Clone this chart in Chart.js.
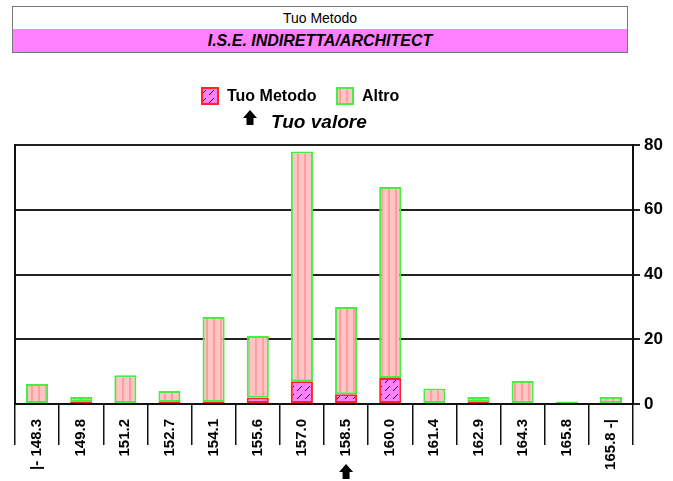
<!DOCTYPE html>
<html>
<head>
<meta charset="utf-8">
<script src="https://cdn.jsdelivr.net/npm/chart.js@4.4.1/dist/chart.umd.min.js"></script>
<style>
  body { margin: 0; background: #fff; font-family: "Liberation Sans", Arial, sans-serif; }
  #wrap { position: relative; width: 673px; height: 481px; }
  #chart { position: absolute; left: 0; top: 0; }
  .box { position: absolute; left: 12px; width: 614px; border: 1px solid #777; text-align: center; color: #000; }
  #t1 { top: 6px; height: 22px; line-height: 22px; font-size: 14px; background: #fff; }
  #t2 { top: 29px; height: 23px; line-height: 23px; font-size: 16px; font-weight: bold; font-style: italic; background: #ff80ff; border-top: none; }
</style>
</head>
<body>
<div id="wrap">
  <canvas id="chart" width="673" height="481"></canvas>
  <div class="box" id="t1">Tuo Metodo</div>
  <div class="box" id="t2">I.S.E. INDIRETTA/ARCHITECT</div>
</div>
<script>
const categories = ['|- 148.3', '149.8', '151.2', '152.7', '154.1', '155.6', '157.0', '158.5', '160.0', '161.4', '162.9', '164.3', '165.8', '165.8 -|'];
const tuoMetodo = [0, 0.6, 0, 0.6, 0.6, 2, 7, 3, 8, 0, 0.6, 0, 0, 0];
const altro = [6.2, 1.6, 8.9, 3.4, 26.3, 19, 71, 27, 59, 4.8, 1.6, 7.1, 0.8, 2.2];
const yTicks = [0, 20, 40, 60, 80];
const tuoValoreIndex = 7;

const FONT = '"Liberation Sans", Arial, sans-serif';

function stripePattern() {
    const c = document.createElement('canvas');
    c.width = 7; c.height = 7;
    const g = c.getContext('2d');
    g.fillStyle = '#ffc4c4';
    g.fillRect(0, 0, 7, 7);
    g.fillStyle = '#ff9e9e';
    g.fillRect(3, 0, 2, 7);
    return g.createPattern(c, 'repeat');
}

function hatchPattern() {
    const c = document.createElement('canvas');
    c.width = 8; c.height = 8;
    const g = c.getContext('2d');
    g.fillStyle = '#ff80ff';
    g.fillRect(0, 0, 8, 8);
    g.strokeStyle = '#000';
    g.lineWidth = 1;
    g.beginPath();
    g.moveTo(1, 7);
    g.lineTo(6, 2);
    g.stroke();
    return g.createPattern(c, 'repeat');
}

const stripes = stripePattern();
const hatch = hatchPattern();

function drawArrow(ctx, cx, top) {
    ctx.fillStyle = '#000';
    ctx.beginPath();
    ctx.moveTo(cx, top);
    ctx.lineTo(cx + 7, top + 8);
    ctx.lineTo(cx + 3.5, top + 8);
    ctx.lineTo(cx + 3.5, top + 15);
    ctx.lineTo(cx - 3.5, top + 15);
    ctx.lineTo(cx - 3.5, top + 8);
    ctx.lineTo(cx - 7, top + 8);
    ctx.closePath();
    ctx.fill();
}

const extras = {
    id: 'extras',
    afterDraw(chart) {
        const ctx = chart.ctx;
        ctx.save();
        // legend
        ctx.lineWidth = 2;
        ctx.fillStyle = hatch;
        ctx.fillRect(202, 88, 16, 16);
        ctx.strokeStyle = '#ff2222';
        ctx.strokeRect(202, 88, 16, 16);
        ctx.fillStyle = stripes;
        ctx.fillRect(337, 88, 16, 16);
        ctx.strokeStyle = '#44ee44';
        ctx.strokeRect(337, 88, 16, 16);
        ctx.fillStyle = '#000';
        ctx.font = 'bold 16px ' + FONT;
        ctx.textBaseline = 'middle';
        ctx.fillText('Tuo Metodo', 227, 97);
        ctx.fillText('Altro', 362, 97);
        ctx.font = 'italic bold 19px ' + FONT;
        ctx.fillText('Tuo valore', 271, 123);
        drawArrow(ctx, 250, 110);
        // arrow under the category of the user's value
        const x = chart.scales.x.getPixelForValue(tuoValoreIndex);
        drawArrow(ctx, x, 464);
        ctx.restore();
    }
};

new Chart(document.getElementById('chart'), {
    type: 'bar',
    data: {
        labels: categories,
        datasets: [{
            label: 'Tuo Metodo',
            data: tuoMetodo,
            backgroundColor: hatch,
            borderColor: '#ff2222',
            borderWidth: 2,
            borderSkipped: false
        }, {
            label: 'Altro',
            data: altro,
            backgroundColor: stripes,
            borderColor: '#44ee44',
            borderWidth: 2,
            borderSkipped: false
        }]
    },
    options: {
        responsive: false,
        animation: false,
        layout: { padding: { top: 145, left: 0, right: 0, bottom: 0 } },
        datasets: { bar: { categoryPercentage: 1, barPercentage: 0.5 } },
        plugins: { legend: { display: false }, tooltip: { enabled: false } },
        scales: {
            x: {
                stacked: true,
                afterFit: s => { s.height = 77; },
                grid: { drawOnChartArea: false, color: '#111', lineWidth: 1.5, tickLength: 41, offset: true },
                border: { color: '#111', width: 2 },
                ticks: {
                    color: '#000', font: { family: FONT, size: 15, weight: 'bold' },
                    minRotation: 90, maxRotation: 90, padding: -26, autoSkip: false
                }
            },
            y: {
                stacked: true,
                position: 'right',
                min: 0, max: 80,
                afterFit: s => { s.width = 40; },
                afterBuildTicks: s => { s.ticks = yTicks.map(v => ({ value: v })); },
                grid: { color: '#222', lineWidth: 2, tickLength: 7 },
                border: { color: '#111', width: 2 },
                ticks: { color: '#000', font: { family: FONT, size: 17, weight: 'bold' }, padding: 4 }
            },
            yl: {
                position: 'left',
                min: 0, max: 80,
                afterFit: s => { s.width = 15; },
                grid: { display: false },
                ticks: { display: false },
                border: { color: '#111', width: 2 }
            }
        }
    },
    plugins: [extras]
});
</script>
</body>
</html>
